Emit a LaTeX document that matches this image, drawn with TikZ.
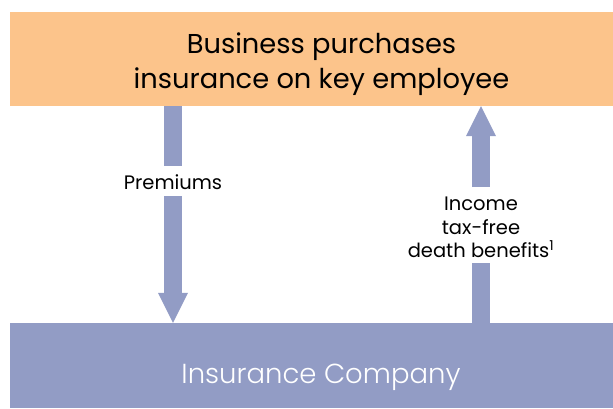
\documentclass[tikz,border=0pt]{standalone}
\usepackage{fontspec}
\setmainfont{Poppins}
\IfFontExistsTF{Poppins Light}{\newfontfamily\lightfont{Poppins Light}}{\newfontfamily\lightfont{Poppins}}
\usetikzlibrary{arrows.meta}
\definecolor{boxorange}{HTML}{FCC48B}
\definecolor{boxblue}{HTML}{929CC5}
\begin{document}
\begin{tikzpicture}[x=1pt,y=1pt,
  band/.style={draw=none, minimum width=603pt, inner sep=0pt},
  toptext/.style={inner sep=0pt, anchor=base, font=\fontsize{27.3}{35}\selectfont},
  bottext/.style={inner sep=0pt, anchor=base, text=white, font=\lightfont\fontsize{27.5}{33}\selectfont},
  shaft/.style={draw=boxblue, line width=18pt},
  flow/.style={shaft, -{Triangle[width=30pt,length=30pt,line width=0pt]}},
  lbl/.style={inner sep=0pt, align=center, font=\fontsize{19.5}{23.5}\selectfont}]
\useasboundingbox (0,0) rectangle (613,408);
\node[band, fill=boxorange, minimum height=94pt] (top) at (311.5,349) {};
\node[toptext] (topA) at (321.5,354.7) {Business purchases};
\node[toptext] (topB) at (321.5,319.7) {insurance on key employee};
\node[band, fill=boxblue, minimum height=85pt] (bot) at (311.5,42.5) {};
\node[bottext] (botA) at (321,25) {Insurance Company};
\node[lbl, anchor=base] (prem) at (173,219) {Premiums};
\node[lbl, anchor=north] (ben) at (481,211) {Income\\tax-free\\death benefits\textsuperscript{1}};
\draw[shaft] (top.south -| prem) -- ([yshift=8.4pt]prem.north);
\draw[flow] ([yshift=-7pt]prem.south) -- (bot.north -| prem);
\draw[flow] ([yshift=10pt]ben.north) -- (top.south -| ben);
\draw[shaft] (bot.north -| ben) -- ([yshift=-5pt]ben.south);
\end{tikzpicture}
\end{document}
